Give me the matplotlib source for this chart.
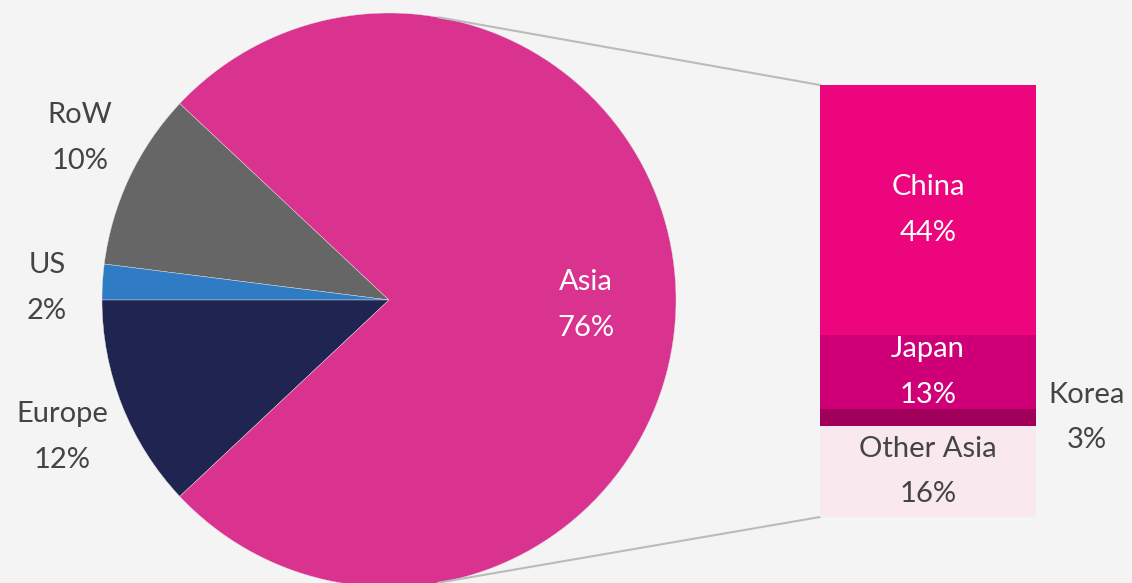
import numpy as np
import matplotlib.pyplot as plt

# regional split (percent)
regions = ['RoW', 'US', 'Europe', 'Asia']
region_share = [10, 2, 12, 76]
region_colors = ['#666666', '#2f7cc4', '#1f2550', '#d9328f']

# breakdown of Asia, top to bottom
asia_parts = ['China', 'Japan', 'Korea', 'Other Asia']
asia_share = [44, 13, 3, 16]
asia_colors = ['#ec057c', '#cf0077', '#a1005a', '#f9e9ef']
asia_text = ['white', 'white', '#444444', '#444444']

bg = '#f4f4f4'
txt = '#444444'
fs = 21
ls = 1.93
plt.rcParams['font.family'] = ['Lato', 'DejaVu Sans']

W, H = 1132, 583
fig = plt.figure(figsize=(W / 100, H / 100), dpi=100, facecolor=bg)
ax = fig.add_axes([0, 0, 1, 1])

cx, cy, r = 389, 283, 287
other = sum(region_share[:-1])
start = 180 - other / 100 * 360 / 2
ax.pie(region_share, colors=region_colors, startangle=start, counterclock=True,
       center=(cx, cy), radius=r, frame=True,
       wedgeprops=dict(linewidth=0.3, edgecolor='#e0e0e0'))
ax.set_xlim(0, W)
ax.set_ylim(0, H)
ax.set_aspect('equal')
ax.axis('off')

# slice labels
label_pos = {'RoW': (80, 445), 'US': (47, 295), 'Europe': (62, 146), 'Asia': (586, 278)}
for name, val in zip(regions, region_share):
    x, y = label_pos[name]
    ax.text(x, y, f'{name}\n{val}%', ha='center', va='center', fontsize=fs,
            color='white' if name == 'Asia' else txt, linespacing=ls)

# stacked bar for Asia
bx0, bw, by0, bh = 820, 216, 66, 432
bax = fig.add_axes([bx0 / W, by0 / H, bw / W, bh / H])
bax.set_xlim(-0.5, 0.5)
bax.set_ylim(0, sum(asia_share))
bax.axis('off')
tops = np.cumsum(asia_share)
total = sum(asia_share)
for name, val, col, tc, t in zip(asia_parts, asia_share, asia_colors, asia_text, tops):
    bottom = total - t
    bax.bar(0, val, width=1, bottom=bottom, color=col)
    mid = bottom + val / 2
    if name == 'Korea':
        bax.text(0.735, mid, f'{name}\n{val}%', ha='center', va='center', fontsize=fs,
                 color=txt, linespacing=ls, clip_on=False)
    else:
        bax.text(0, mid, f'{name}\n{val}%', ha='center', va='center', fontsize=fs,
                 color=tc, linespacing=ls)

# connector lines from pie edge to bar corners
ang = np.deg2rad(80)
ax.plot([cx + r * np.cos(ang), bx0], [cy + r * np.sin(ang), by0 + bh], color='#bbbbbb', lw=1.5)
ax.plot([cx + r * np.cos(ang), bx0], [cy - r * np.sin(ang), by0], color='#bbbbbb', lw=1.5)

fig.savefig('out.png', dpi=100, facecolor=bg)
